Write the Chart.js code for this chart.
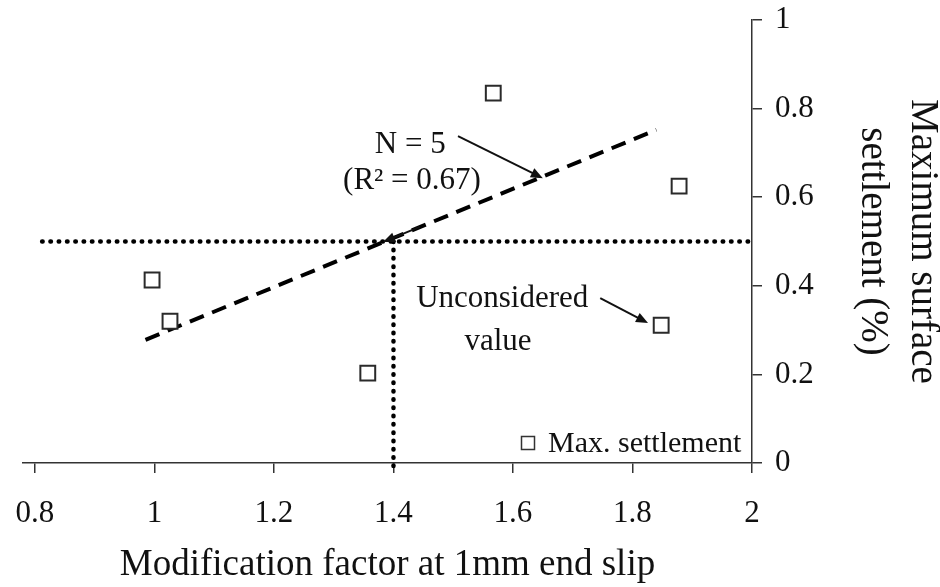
<!DOCTYPE html>
<html>
<head>
<meta charset="utf-8">
<script src="https://cdn.jsdelivr.net/npm/chart.js@4.4.1/dist/chart.umd.min.js"></script>
<style>
    html, body { margin: 0; padding: 0; background: #fff; }
</style>
</head>
<body>
<canvas id="settlementChart" width="940" height="587"></canvas>
<script>
// Data
const xTickValues = [0.8, 1, 1.2, 1.4, 1.6, 1.8, 2];
const modificationFactor = [0.996, 1.026, 1.357, 1.567, 1.878, 1.848];
const maxSettlement = [0.413, 0.32, 0.203, 0.835, 0.625, 0.311];

// fitted trend (N = 5), drawn dashed
const trendFactor = [0.985, 1.84];
const trendSettlement = [0.278, 0.752];

// dotted guides at settlement 0.5 / factor 1.4
const guideLevel = 0.5;
const guideFactor = 1.4;
const guideFactorRange = [0.812, 2.0];
const guideLevelRange = [0.5, -0.012];

const serif = "'Liberation Serif', 'Times New Roman', serif";
const ink = '#111';

// annotation texts / arrows, in data units
const notes = [
    { text: 'N = 5', x: 1.428, y: 0.70 },
    { text: '(R\u00b2 = 0.67)', x: 1.431, y: 0.619 },
    { text: 'Unconsidered', x: 1.582, y: 0.352 },
    { text: 'value', x: 1.575, y: 0.255 }
];
const arrows = [
    { from: [1.508, 0.738], to: [1.650, 0.643] },
    { from: [1.444, 0.533], to: [1.3825, 0.499] },
    { from: [1.746, 0.372], to: [1.826, 0.316] }
];

// strip trailing ".0" like the original axis labels
const plainNumber = v => String(Number(Number(v).toFixed(1)));

const annotationPlugin = {
    id: 'annotations',
    afterDraw(chart) {
        const { ctx, scales: { x, y }, chartArea } = chart;
        ctx.save();
        ctx.fillStyle = ink;
        ctx.strokeStyle = ink;
        ctx.font = `31px ${serif}`;
        ctx.textAlign = 'center';
        ctx.textBaseline = 'alphabetic';
        notes.forEach(n => ctx.fillText(n.text, x.getPixelForValue(n.x), y.getPixelForValue(n.y)));

        ctx.lineWidth = 2;
        arrows.forEach(a => {
            const x1 = x.getPixelForValue(a.from[0]), y1 = y.getPixelForValue(a.from[1]);
            const x2 = x.getPixelForValue(a.to[0]), y2 = y.getPixelForValue(a.to[1]);
            const ang = Math.atan2(y2 - y1, x2 - x1);
            const len = 12, half = 5;
            ctx.beginPath();
            ctx.moveTo(x1, y1);
            ctx.lineTo(x2 - Math.cos(ang) * len * 0.8, y2 - Math.sin(ang) * len * 0.8);
            ctx.stroke();
            ctx.beginPath();
            ctx.moveTo(x2, y2);
            ctx.lineTo(x2 - Math.cos(ang) * len - Math.sin(ang) * half, y2 - Math.sin(ang) * len + Math.cos(ang) * half);
            ctx.lineTo(x2 - Math.cos(ang) * len + Math.sin(ang) * half, y2 - Math.sin(ang) * len - Math.cos(ang) * half);
            ctx.closePath();
            ctx.fill();
        });

        // legend inside the plot, bottom right
        const lx = chartArea.right - 224, ly = chartArea.bottom - 20;
        ctx.lineWidth = 1.5;
        ctx.strokeStyle = '#333';
        ctx.fillStyle = '#fff';
        ctx.fillRect(lx - 6.5, ly - 6.5, 13, 13);
        ctx.strokeRect(lx - 6.5, ly - 6.5, 13, 13);
        ctx.fillStyle = ink;
        ctx.font = `30px ${serif}`;
        ctx.textAlign = 'left';
        ctx.fillText('Max. settlement', lx + 20, chartArea.bottom - 11);
        ctx.restore();
    }
};

const canvas = document.getElementById('settlementChart');
new Chart(canvas.getContext('2d'), {
    type: 'scatter',
    data: {
        datasets: [
            {
                label: 'Max. settlement',
                data: modificationFactor.map((f, i) => ({ x: f, y: maxSettlement[i] })),
                pointStyle: 'rect',
                pointRadius: 10.5,
                pointBorderWidth: 2,
                pointBorderColor: '#2a2a2a',
                pointBackgroundColor: '#fff',
                order: 0
            },
            {
                label: 'Trend',
                type: 'line',
                data: trendFactor.map((f, i) => ({ x: f, y: trendSettlement[i] })),
                borderColor: '#000',
                borderWidth: 4,
                borderDash: [15, 9],
                pointRadius: 0,
                fill: false,
                order: 1
            },
            {
                label: 'Guide level',
                type: 'line',
                data: guideFactorRange.map(f => ({ x: f, y: guideLevel })),
                borderColor: '#000',
                borderWidth: 4.5,
                borderDash: [0.5, 7.8],
                borderCapStyle: 'round',
                pointRadius: 0,
                fill: false,
                order: 2
            },
            {
                label: 'Guide factor',
                type: 'line',
                data: guideLevelRange.map(v => ({ x: guideFactor, y: v })),
                borderColor: '#000',
                borderWidth: 4.5,
                borderDash: [0.5, 7.8],
                borderCapStyle: 'round',
                pointRadius: 0,
                fill: false,
                clip: false,
                order: 2
            }
        ]
    },
    options: {
        responsive: false,
        animation: false,
        layout: { padding: { left: 23, top: 20, right: 0, bottom: 0 } },
        plugins: {
            legend: { display: false },
            tooltip: { enabled: false }
        },
        scales: {
            x: {
                type: 'linear',
                min: 0.78,
                max: 2,
                afterBuildTicks: s => { s.ticks = xTickValues.map(v => ({ value: v })); },
                afterFit: s => {
                    s.height = 124;
                    s.paddingLeft = 0;
                    s.paddingRight = 0;
                },
                border: { color: '#333', width: 1.5 },
                grid: { drawOnChartArea: false, color: '#333', lineWidth: 1.5, tickLength: 10 },
                ticks: {
                    color: ink,
                    font: { family: serif, size: 31 },
                    padding: 22,
                    maxRotation: 0,
                    autoSkip: false,
                    callback: plainNumber
                },
                title: {
                    display: true,
                    text: 'Modification factor at 1mm end slip',
                    color: ink,
                    font: { family: serif, size: 37 },
                    padding: { top: 0, bottom: 0 }
                }
            },
            y: {
                position: 'right',
                min: 0,
                max: 1,
                afterFit: s => {
                    s.width = 188;
                    s.paddingTop = 0;
                    s.paddingBottom = 0;
                },
                border: { color: '#333', width: 1.5 },
                grid: { drawOnChartArea: false, color: '#333', lineWidth: 1.5, tickLength: 10 },
                ticks: {
                    stepSize: 0.2,
                    color: ink,
                    font: { family: serif, size: 31 },
                    padding: 13,
                    callback: plainNumber
                },
                title: {
                    display: true,
                    text: ['Maximum surface', 'settlement (%)'],
                    color: ink,
                    font: { family: serif, size: 39, lineHeight: 1.28 },
                    padding: { top: -7, bottom: 0 }
                }
            }
        }
    },
    plugins: [annotationPlugin]
});
</script>
</body>
</html>
